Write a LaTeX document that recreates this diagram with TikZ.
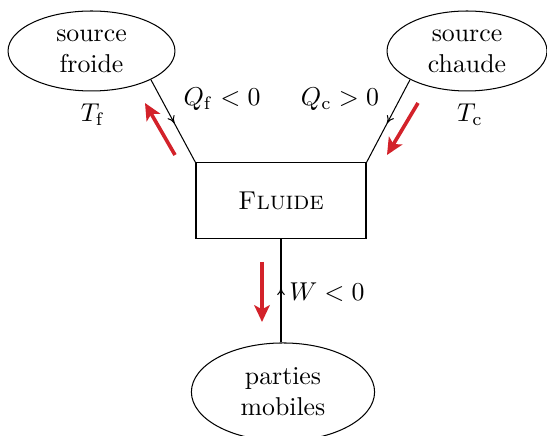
\documentclass[tikz,border=0pt]{standalone}
\usetikzlibrary{arrows.meta,shapes.geometric,decorations.markings}
\definecolor{flowred}{RGB}{211,34,42}
\begin{document}
\begin{tikzpicture}[x=0.3876pt,y=-0.3876pt,
  reservoir/.style={draw,ellipse,align=center,inner sep=0pt},
  system/.style={draw,rectangle,inner sep=0pt,minimum width=65.9pt,minimum height=29.1pt},
  link/.style={postaction={decorate},decoration={markings,
      mark=at position 0.53 with {\arrow{To[length=3pt,width=3pt]}}}},
  flow/.style={flowred,line width=1.4pt,-{Stealth[length=6.5pt,width=6pt,inset=1.6pt]}}]
  \useasboundingbox (0,0) rectangle (547,436);

  % reservoirs and working fluid
  \node[reservoir,minimum width=64.7pt,minimum height=31pt] (froide) at (91.5,51) {source\\froide};
  \node[reservoir,minimum width=62pt,minimum height=31pt] (chaude) at (467,51) {source\\chaude};
  \node[system] (fluide) at (281,200.5) {\textsc{Fluide}};
  \node[reservoir,minimum width=71pt,minimum height=38pt] (mobiles) at (283,392) {parties\\mobiles};

  % exchanges
  \draw[link] (froide.south east) -- (fluide.north west);
  \draw[link] (chaude.south west) -- (fluide.north east);
  \draw[link] (mobiles.north -| fluide.south) -- (fluide.south);

  % labels
  \node (tf) at (93,115) {$T_{\mathrm{f}}$};
  \node (tc) at (470,115) {$T_{\mathrm{c}}$};
  \node (qf) at (222,99) {$Q_{\mathrm{f}}<0$};
  \node (qc) at (340,99) {$Q_{\mathrm{c}}>0$};
  \node (w) at (327,292) {$W<0$};

  % actual energy flows
  \coordinate (af1) at (175,155); \coordinate (af2) at (145,103);
  \coordinate (ac1) at (418,103); \coordinate (ac2) at (387,155);
  \coordinate (aw1) at (262,262); \coordinate (aw2) at (262,322);
  \draw[flow] (af1) -- (af2);
  \draw[flow] (ac1) -- (ac2);
  \draw[flow] (aw1) -- (aw2);
\end{tikzpicture}
\end{document}
